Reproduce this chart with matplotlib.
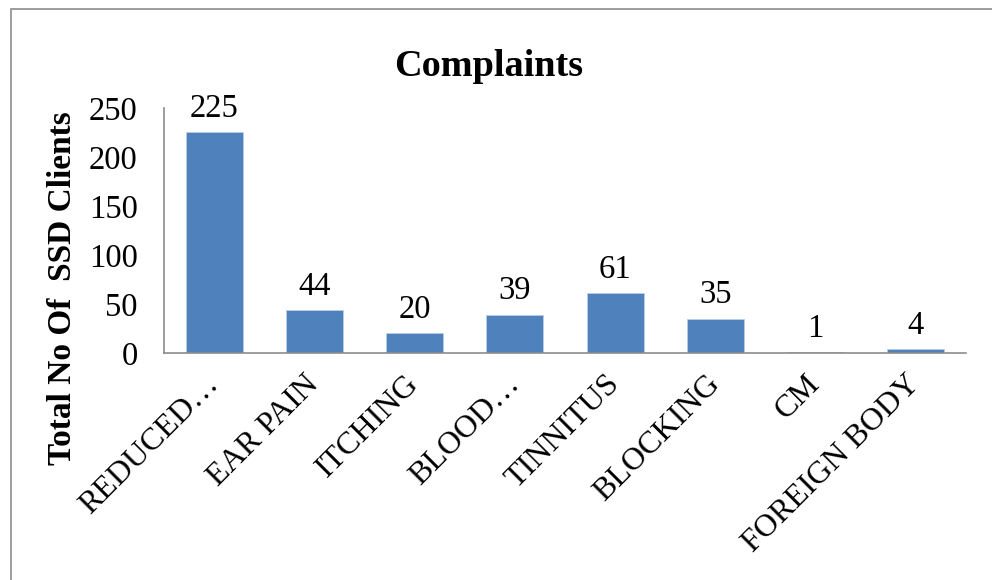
import matplotlib
matplotlib.use('Agg')
import matplotlib.pyplot as plt
import matplotlib.transforms as mtransforms
from matplotlib.patches import Rectangle

categories = ['REDUCED…', 'EAR PAIN', 'ITCHING', 'BLOOD…', 'TINNITUS',
              'BLOCKING', 'CM', 'FOREIGN BODY']
clients = [225, 44, 20, 39, 61, 35, 1, 4]
y_ticks = [0, 50, 100, 150, 200, 250]

plt.rcParams['font.family'] = ['Liberation Serif', 'DejaVu Serif']

fig = plt.figure(figsize=(9.92, 5.8), dpi=100)
ax = fig.add_axes([164 / 992, 1 - 353 / 580, 802 / 992, 245 / 580])

x = range(len(categories))
bars = ax.bar(x, clients, width=0.57, color='#4F81BD', edgecolor='#B9CDE5',
              linewidth=0.6)
ax.bar_label(bars, labels=[str(v) for v in clients], padding=6, fontsize=23.5)

ax.set_xlim(-0.5, len(categories) - 0.5)
ax.set_ylim(0, 250)
ax.set_yticks(y_ticks)
ax.set_xticks(list(x))
ax.set_xticklabels(categories, rotation=45, ha='right', va='top',
                   rotation_mode='anchor')
ax.tick_params(axis='y', length=0, pad=19, labelsize=23.5)
ax.tick_params(axis='x', length=0, pad=12, labelsize=23)

# nudge the slanted labels a little to the left, as in the original
shift = mtransforms.ScaledTranslation(-0.1, 0, fig.dpi_scale_trans)
for lbl in ax.get_xticklabels():
    lbl.set_transform(lbl.get_transform() + shift)

for side in ['top', 'right']:
    ax.spines[side].set_visible(False)
for side in ['left', 'bottom']:
    ax.spines[side].set_color('#8C8C8C')
    ax.spines[side].set_linewidth(1.2)

fig.text(63 / 992, 1 - 288 / 580, 'Total No Of  SSD Clients', rotation=90,
         ha='center', va='center', fontsize=24, fontweight='bold')
fig.text(489 / 992, 1 - 67 / 580, 'Complaints', ha='center', va='center',
         fontsize=27.5, fontweight='bold')

# outer chart border (runs off the right and bottom of the image)
fig.patches.append(Rectangle((11 / 992, -0.1), 1.2, 1.1 - 9 / 580,
                             transform=fig.transFigure, fill=False,
                             edgecolor='#8C8C8C', linewidth=1.2))

fig.savefig('out.png', dpi=100)
